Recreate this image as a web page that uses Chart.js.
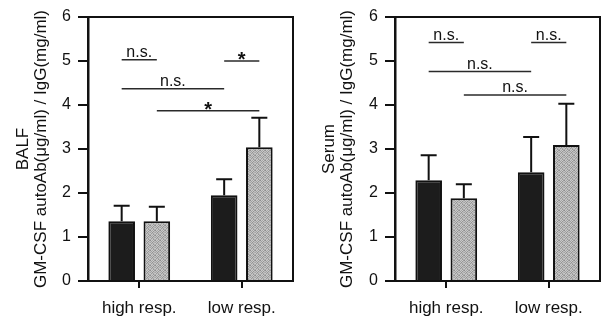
<!DOCTYPE html>
<html>
<head>
<meta charset="utf-8">
<script src="https://cdn.jsdelivr.net/npm/chart.js@4.4.0/dist/chart.umd.min.js"></script>
<style>
  body { margin: 0; background: #fff; }
  #wrap { position: relative; width: 608px; height: 324px; }
  canvas { position: absolute; top: 0; }
  #balfChart { left: 0; }
  #serumChart { left: 304px; }
</style>
</head>
<body>
<div id="wrap">
  <canvas id="balfChart" width="304" height="324"></canvas>
  <canvas id="serumChart" width="304" height="324"></canvas>
</div>
<script>
var categories = ["high resp.", "low resp."];
var yTicks = [0, 1, 2, 3, 4, 5, 6];

// BALF panel
var balfDark = [1.36, 1.95];
var balfDarkErr = [0.35, 0.36];
var balfGray = [1.36, 3.04];
var balfGrayErr = [0.33, 0.67];
// [dataset, index] -> [dataset, index], height, label
var balfSig = [
  [0, 0, 1, 0, 5.03, "n.s."],
  [0, 1, 1, 1, 5.0, "*"],
  [0, 0, 0, 1, 4.37, "n.s."],
  [1, 0, 1, 1, 3.87, "*"]
];

// Serum panel
var serumDark = [2.29, 2.47];
var serumDarkErr = [0.57, 0.8];
var serumGray = [1.88, 3.09];
var serumGrayErr = [0.32, 0.94];
var serumSig = [
  [0, 0, 1, 0, 5.42, "n.s."],
  [0, 1, 1, 1, 5.42, "n.s."],
  [0, 0, 0, 1, 4.76, "n.s."],
  [1, 0, 1, 1, 4.23, "n.s."]
];

var ink = "#111111";
var fontName = "'Liberation Sans', Arial, sans-serif";

// stippled gray fill
function grayPattern() {
  var c = document.createElement("canvas");
  c.width = 5;
  c.height = 5;
  var g = c.getContext("2d");
  var shades = [
    "#8e8e8e", "#c8c8c8", "#a8a8a8", "#cccccc", "#9c9c9c",
    "#c0c0c0", "#a0a0a0", "#cacaca", "#969696", "#bcbcbc",
    "#a4a4a4", "#c6c6c6", "#929292", "#c2c2c2", "#b0b0b0",
    "#cbcbcb", "#9a9a9a", "#b8b8b8", "#a6a6a6", "#c4c4c4",
    "#acacac", "#bebebe", "#c9c9c9", "#989898", "#b4b4b4"
  ];
  for (var i = 0; i < 25; i++) {
    g.fillStyle = shades[i];
    g.fillRect(i % 5, Math.floor(i / 5), 1, 1);
  }
  return g.createPattern(c, "repeat");
}

var decorPlugin = {
  id: "decor",
  afterDatasetsDraw: function (chart, args, opts) {
    var ctx = chart.ctx;
    var y = chart.scales.y;
    var area = chart.chartArea;

    // error bars (upper only)
    ctx.save();
    ctx.strokeStyle = ink;
    ctx.lineWidth = 2;
    chart.data.datasets.forEach(function (ds, di) {
      var meta = chart.getDatasetMeta(di);
      meta.data.forEach(function (bar, i) {
        var top = y.getPixelForValue(ds.data[i]);
        var end = y.getPixelForValue(ds.data[i] + ds.err[i]);
        ctx.beginPath();
        ctx.moveTo(bar.x, top);
        ctx.lineTo(bar.x, end);
        ctx.moveTo(bar.x - 8, end);
        ctx.lineTo(bar.x + 8, end);
        ctx.stroke();
      });
    });

    // significance lines
    ctx.strokeStyle = "#2a2a2a";
    ctx.lineWidth = 1.5;
    ctx.fillStyle = ink;
    ctx.textAlign = "center";
    opts.sig.forEach(function (s) {
      var x1 = chart.getDatasetMeta(s[0]).data[s[1]].x;
      var x2 = chart.getDatasetMeta(s[2]).data[s[3]].x;
      var py = y.getPixelForValue(s[4]);
      ctx.beginPath();
      ctx.moveTo(x1, py);
      ctx.lineTo(x2, py);
      ctx.stroke();
      ctx.textBaseline = "alphabetic";
      if (s[5] === "*") {
        ctx.font = "bold 20px " + fontName;
        ctx.fillText("*", (x1 + x2) / 2, py + 5);
      } else {
        ctx.font = "16px " + fontName;
        ctx.fillText(s[5], (x1 + x2) / 2, py - 3);
      }
    });

    // frame top and right
    ctx.strokeStyle = ink;
    ctx.lineWidth = 2;
    ctx.beginPath();
    ctx.moveTo(area.left, area.top);
    ctx.lineTo(area.right, area.top);
    ctx.lineTo(area.right, area.bottom);
    ctx.stroke();
    ctx.restore();
  }
};

function makeChart(id, title, dark, darkErr, gray, grayErr, sig, yWidth, rightPad, titlePad) {
  var ctx = document.getElementById(id).getContext("2d");
  return new Chart(ctx, {
    type: "bar",
    data: {
      labels: categories,
      datasets: [
        {
          data: dark,
          err: darkErr,
          backgroundColor: "#1c1c1c",
          borderColor: ink,
          borderWidth: 2,
          borderSkipped: "start"
        },
        {
          data: gray,
          err: grayErr,
          backgroundColor: grayPattern(),
          borderColor: ink,
          borderWidth: 2,
          borderSkipped: "start"
        }
      ]
    },
    options: {
      responsive: false,
      animation: false,
      events: [],
      categoryPercentage: 0.686,
      barPercentage: 0.757,
      layout: { padding: { top: 17, right: rightPad, left: 0, bottom: 0 } },
      plugins: {
        legend: { display: false },
        tooltip: { enabled: false },
        decor: { sig: sig }
      },
      scales: {
        x: {
          offset: true,
          grid: {
            offset: false,
            drawOnChartArea: false,
            color: ink,
            lineWidth: 2,
            tickLength: 7
          },
          border: { display: true, color: ink, width: 2 },
          ticks: {
            color: ink,
            padding: 10,
            font: { family: fontName, size: 17 }
          },
          afterFit: function (scale) {
            scale.height = 43;
          }
        },
        y: {
          min: 0,
          max: 6,
          afterBuildTicks: function (scale) {
            scale.ticks = yTicks.map(function (v) {
              return { value: v };
            });
          },
          grid: {
            drawOnChartArea: false,
            color: ink,
            lineWidth: 2,
            tickLength: 10
          },
          border: { display: true, color: ink, width: 2.5 },
          ticks: {
            color: ink,
            padding: 7,
            font: { family: fontName, size: 16 }
          },
          title: {
            display: true,
            text: title,
            color: ink,
            padding: { top: titlePad, bottom: 0 },
            font: { family: fontName, size: 17, lineHeight: "18px" }
          },
          afterFit: function (scale) {
            scale.width = yWidth;
          }
        }
      }
    },
    plugins: [decorPlugin]
  });
}

makeChart("balfChart", ["BALF", "GM-CSF autoAb(\u03bcg/ml) / IgG(mg/ml)"],
  balfDark, balfDarkErr, balfGray, balfGrayErr, balfSig, 88, 11, 14);
makeChart("serumChart", ["Serum", "GM-CSF autoAb(\u03bcg/ml) / IgG(mg/ml)"],
  serumDark, serumDarkErr, serumGray, serumGrayErr, serumSig, 91, 8, 16);
</script>
</body>
</html>
